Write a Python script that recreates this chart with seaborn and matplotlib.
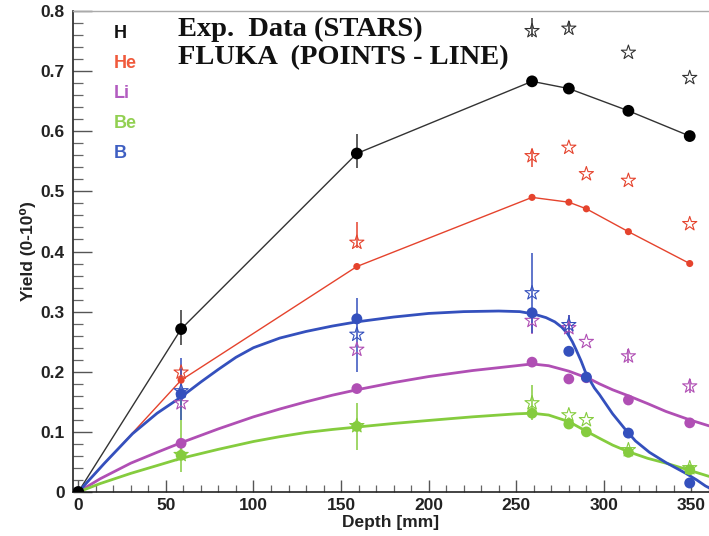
import matplotlib
matplotlib.use("Agg")
import matplotlib.pyplot as plt
import seaborn as sns
from matplotlib.ticker import MultipleLocator

# ---------------- data ----------------
species = ["H", "He", "Li", "Be", "B"]

# FLUKA points
h_pt_depth = [0, 58.7, 159, 259, 280, 314, 349]
h_pt_yield = [0, 0.271, 0.563, 0.683, 0.671, 0.634, 0.592]
he_pt_depth = [0, 58.7, 159, 259, 280, 290, 314, 349]
he_pt_yield = [0, 0.186, 0.375, 0.490, 0.482, 0.471, 0.433, 0.380]
li_pt_depth = [0, 58.7, 159, 259, 280, 290, 314, 349]
li_pt_yield = [0, 0.081, 0.172, 0.216, 0.188, 0.190, 0.153, 0.115]
be_pt_depth = [0, 58.7, 159, 259, 280, 290, 314, 349]
be_pt_yield = [0, 0.061, 0.109, 0.131, 0.113, 0.100, 0.066, 0.037]
b_pt_depth = [0, 58.7, 159, 259, 280, 290, 314, 349]
b_pt_yield = [0, 0.163, 0.288, 0.298, 0.234, 0.191, 0.098, 0.015]

# FLUKA smooth curves
b_curve_depth = [0, 15, 31, 45, 58.7, 70, 80, 90, 100, 115, 130, 145, 159, 180, 200, 220, 240,
                 252, 260, 267, 272, 276, 279.4, 282, 284.1, 287, 289.4, 292, 294.6, 297.5,
                 300.3, 305, 311.7, 318, 326, 335.4, 346.8, 353, 358, 362]
b_curve_yield = [0, 0.048, 0.097, 0.131, 0.158, 0.183, 0.204, 0.224, 0.240, 0.256, 0.267, 0.276,
                 0.283, 0.291, 0.297, 0.300, 0.301, 0.300, 0.296, 0.290, 0.283, 0.274, 0.263,
                 0.250, 0.237, 0.218, 0.200, 0.186, 0.173, 0.162, 0.150, 0.130, 0.106, 0.085,
                 0.066, 0.049, 0.031, 0.020, 0.010, 0.004]
li_curve_depth = [0, 12.5, 30, 45, 58.7, 80, 100, 115, 130, 145, 159, 180, 200, 225, 250, 259,
                  268.5, 280, 292, 297.4, 305, 314, 325, 335.4, 349, 360]
li_curve_yield = [0, 0.022, 0.048, 0.066, 0.082, 0.105, 0.125, 0.138, 0.150, 0.161, 0.170, 0.182,
                  0.192, 0.202, 0.210, 0.213, 0.210, 0.201, 0.188, 0.180, 0.170, 0.160, 0.147,
                  0.134, 0.120, 0.110]
be_curve_depth = [0, 12.5, 30, 45, 58.7, 80, 100, 115, 130, 145, 159, 180, 200, 225, 250, 259,
                  268.5, 280, 290, 297.4, 305, 314, 325, 335.4, 349, 360]
be_curve_yield = [0, 0.014, 0.031, 0.044, 0.056, 0.071, 0.084, 0.092, 0.099, 0.104, 0.108, 0.114,
                  0.119, 0.125, 0.130, 0.131, 0.128, 0.117, 0.101, 0.0895, 0.078, 0.067, 0.056,
                  0.048, 0.036, 0.026]

# Experimental data (stars)
h_exp_depth = [259, 280, 314, 349]
h_exp_yield = [0.767, 0.771, 0.731, 0.689]
he_exp_depth = [58.7, 159, 259, 280, 290, 314, 349]
he_exp_yield = [0.199, 0.415, 0.559, 0.573, 0.529, 0.518, 0.446]
li_exp_depth = [58.7, 159, 259, 280, 290, 314, 349]
li_exp_yield = [0.148, 0.237, 0.285, 0.273, 0.250, 0.226, 0.176]
be_exp_depth = [58.7, 159, 259, 280, 290, 314, 349]
be_exp_yield = [0.062, 0.110, 0.148, 0.128, 0.120, 0.070, 0.040]
b_exp_depth = [58.7, 159, 259, 280]
b_exp_yield = [0.168, 0.262, 0.331, 0.278]

# vertical error bars (low, high)
h_err_depth = [58.7, 159, 259, 280]
h_err_lo = [0.245, 0.539, 0.756, 0.765]
h_err_hi = [0.303, 0.595, 0.789, 0.784]
he_err_depth = [58.7, 159, 259]
he_err_lo = [0.187, 0.406, 0.540]
he_err_hi = [0.205, 0.449, 0.570]
li_err_depth = [259, 280, 314, 349]
li_err_lo = [0.262, 0.262, 0.215, 0.165]
li_err_hi = [0.300, 0.295, 0.238, 0.188]
be_err_depth = [58.7, 159, 259]
be_err_lo = [0.034, 0.070, 0.120]
be_err_hi = [0.158, 0.148, 0.178]
b_err_depth = [58.7, 159, 259, 280]
b_err_lo = [0.120, 0.200, 0.265, 0.259]
b_err_hi = [0.223, 0.323, 0.398, 0.295]

x_ticks = [0, 50, 100, 150, 200, 250, 300, 350]
y_ticks = [0, 0.1, 0.2, 0.3, 0.4, 0.5, 0.6, 0.7, 0.8]
y_tick_labels = ["0", "0.1", "0.2", "0.3", "0.4", "0.5", "0.6", "0.7", "0.8"]

# ---------------- style ----------------
sns.set_theme(style="ticks")
plt.rcParams["font.family"] = ["Liberation Sans", "DejaVu Sans"]

C_H = "#333333"
C_HE = "#e5432d"
C_LI = "#b04fb4"
C_BE = "#85cc3e"
C_B = "#3450bd"

W, H = 709, 536
fig = plt.figure(figsize=(W / 100, H / 100), dpi=100)
ax = fig.add_axes([73 / W, 1 - 492 / H, 1 - 73 / W, (492 - 11) / H])

# lines
sns.lineplot(x=h_pt_depth, y=h_pt_yield, color=C_H, lw=1.0, ax=ax, sort=False)
sns.lineplot(x=he_pt_depth, y=he_pt_yield, color=C_HE, lw=1.0, ax=ax, sort=False)
sns.lineplot(x=li_curve_depth, y=li_curve_yield, color=C_LI, lw=2.0, ax=ax, sort=False)
sns.lineplot(x=be_curve_depth, y=be_curve_yield, color=C_BE, lw=2.0, ax=ax, sort=False)
sns.lineplot(x=b_curve_depth, y=b_curve_yield, color=C_B, lw=2.0, ax=ax, sort=False)

# error bars
for d, lo, hi, c in [(h_err_depth, h_err_lo, h_err_hi, C_H),
                     (he_err_depth, he_err_lo, he_err_hi, C_HE),
                     (li_err_depth, li_err_lo, li_err_hi, C_LI),
                     (be_err_depth, be_err_lo, be_err_hi, C_BE),
                     (b_err_depth, b_err_lo, b_err_hi, C_B)]:
    ax.vlines(d, lo, hi, colors=c, lw=1.1, zorder=3)

# stars (experiment)
for d, y, c in [(h_exp_depth, h_exp_yield, C_H),
                (he_exp_depth, he_exp_yield, C_HE),
                (li_exp_depth, li_exp_yield, C_LI),
                (be_exp_depth, be_exp_yield, C_BE),
                (b_exp_depth, b_exp_yield, C_B)]:
    sns.scatterplot(x=d, y=y, marker="*", s=115, facecolors="none",
                    edgecolors=c, linewidths=0.8, ax=ax, zorder=4)

# points (FLUKA)
sns.scatterplot(x=li_pt_depth, y=li_pt_yield, color=C_LI, s=60, edgecolor="none", ax=ax, zorder=5)
sns.scatterplot(x=be_pt_depth, y=be_pt_yield, color=C_BE, s=60, edgecolor="none", ax=ax, zorder=5)
sns.scatterplot(x=b_pt_depth, y=b_pt_yield, color=C_B, s=62, edgecolor="none", ax=ax, zorder=6)
sns.scatterplot(x=he_pt_depth, y=he_pt_yield, color=C_HE, s=26, edgecolor="none", ax=ax, zorder=6)
sns.scatterplot(x=h_pt_depth, y=h_pt_yield, color="black", s=72, edgecolor="none", ax=ax, zorder=7)

ax.set_xlim(-3, 360)
ax.set_ylim(0, 0.8)
ax.set_xticks(x_ticks)
ax.set_yticks(y_ticks)
ax.set_yticklabels(y_tick_labels)
ax.xaxis.set_minor_locator(MultipleLocator(10))
ax.yaxis.set_minor_locator(MultipleLocator(0.02))
ax.tick_params(axis="y", which="major", direction="in", length=14, width=1.0, color="#555555",
               labelsize=12.5, pad=6, labelcolor="#222222")
ax.tick_params(axis="y", which="minor", direction="in", length=7, width=0.9, color="#666666")
ax.tick_params(axis="x", which="major", direction="in", length=9, width=1.0, color="#555555",
               labelsize=12.5, pad=4, labelcolor="#222222")
ax.tick_params(axis="x", which="minor", direction="in", length=5, width=0.9, color="#666666")
for lab in ax.get_xticklabels() + ax.get_yticklabels():
    lab.set_fontweight("bold")

for s in ["left", "bottom"]:
    ax.spines[s].set_color("#222222")
    ax.spines[s].set_linewidth(1.2)
ax.spines["top"].set_visible(True)
ax.spines["top"].set_color("#aaaaaa")
ax.spines["top"].set_linewidth(1.0)
ax.spines["right"].set_visible(False)

ax.set_xlabel("Depth [mm]", fontsize=12.5, fontweight="bold", color="#222222", labelpad=2)
ax.set_ylabel("Yield (0-10⁰)", fontsize=12.5, fontweight="bold", color="#222222", labelpad=3)

# species legend (coloured labels)
leg_colors = ["#111111", "#f05a3c", "#b25cc0", "#92d052", "#3f5fc2"]
leg_y = [33, 63, 93, 124, 154]
for name, c, yy in zip(species, leg_colors, leg_y):
    fig.text(114 / W, 1 - yy / H, name, color=c, fontsize=13, fontweight="bold",
             ha="left", va="center")

fig.text(178 / W, 1 - 29 / H, "Exp.  Data (STARS)", family=["Liberation Serif", "DejaVu Serif"],
         fontsize=20.5, fontweight="bold", color="#111111", ha="left", va="center")
fig.text(178 / W, 1 - 58 / H, "FLUKA  (POINTS - LINE)", family=["Liberation Serif", "DejaVu Serif"],
         fontsize=20.5, fontweight="bold", color="#111111", ha="left", va="center")

fig.savefig("out.png", dpi=100, facecolor="white")
